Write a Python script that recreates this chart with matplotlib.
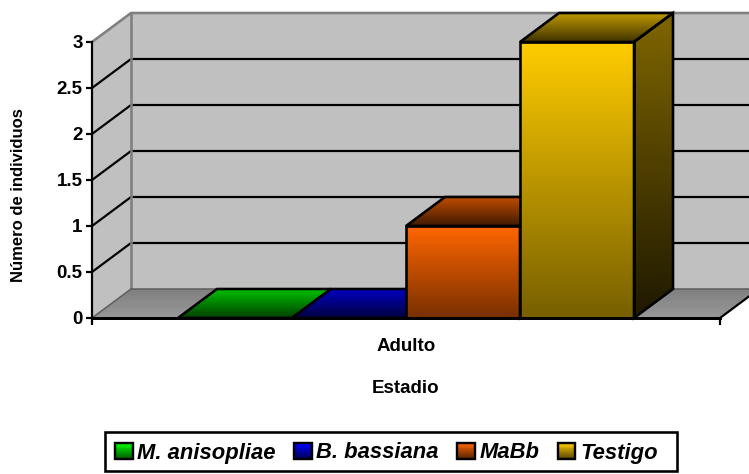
import numpy as np
import matplotlib
matplotlib.use("Agg")
import matplotlib.pyplot as plt
from matplotlib.patches import Polygon, Rectangle, Patch
from matplotlib.colors import to_rgb
from matplotlib.legend_handler import HandlerBase

categories = ["Adulto"]
series_names = ["M. anisopliae", "B. bassiana", "MaBb", "Testigo"]
series_values = [0, 0, 1, 3]
y_ticks = [0, 0.5, 1, 1.5, 2, 2.5, 3]
y_tick_labels = ["0", "0.5", "1", "1.5", "2", "2.5", "3"]
face_colors = ["#00ff00", "#0000ff", "#ff6600", "#ffcc00"]

W, H = 749, 474
AX_L, AX_R, AX_T, AX_B = 92, 720, 42, 318
plt.rcParams["font.family"] = ["Liberation Sans", "DejaVu Sans"]
px = 72 / 100

fig = plt.figure(figsize=(W / 100, H / 100), dpi=100)
ax = fig.add_axes([AX_L / W, (H - AX_B) / H, (AX_R - AX_L) / W, (AX_B - AX_T) / H])
ax.patch.set_alpha(0)

DX = 39 / (AX_R - AX_L)
DY = 29 / ((AX_B - AX_T) / 3)
BAR_W = 114 / (AX_R - AX_L)


def mix(c, f):
    return np.array(to_rgb(c)) * f


def grad(poly, top, bottom, z):
    """Fill a polygon with a vertical gradient, clipped to its outline."""
    poly = np.asarray(poly, float)
    g = np.linspace(0, 1, 64)[:, None, None]
    img = (1 - g) * np.asarray(top)[None, None, :] + g * np.asarray(bottom)[None, None, :]
    ext = [poly[:, 0].min(), poly[:, 0].max(), poly[:, 1].min(), poly[:, 1].max()]
    im = ax.imshow(img, extent=ext, aspect="auto", origin="upper", zorder=z,
                   interpolation="bilinear", clip_on=True)
    p = Polygon(poly, closed=True, transform=ax.transData, fc="none", ec="none", clip_on=False)
    ax.add_patch(p)
    im.set_clip_box(fig.bbox)
    im.set_clip_path(p)
    return im


def outline(poly, z, color="black", lw=2.6):
    ax.add_patch(Polygon(poly, closed=True, fc="none", ec=color, lw=lw * px, zorder=z,
                         clip_on=False, joinstyle="miter"))


x0, x1 = -0.5, 0.5
ymax = y_ticks[-1]
# walls and floor
ax.add_patch(Polygon([(x0 + DX, DY), (x1 + DX, DY), (x1 + DX, ymax + DY), (x0 + DX, ymax + DY)],
                     fc="#c0c0c0", ec="none", zorder=1, clip_on=False))
ax.add_patch(Polygon([(x0, 0), (x0 + DX, DY), (x0 + DX, ymax + DY), (x0, ymax)],
                     fc="#c0c0c0", ec="none", zorder=1, clip_on=False))
floor = [(x0, 0), (x0 + DX, DY), (x1 + DX, DY), (x1, 0)]
grad(floor, mix("#808080", 1), mix("#989898", 1), 1.5)
for t in y_ticks[1:-1]:
    ax.plot([x0, x0 + DX, x1 + DX], [t, t + DY, t + DY], color="black", lw=2.2 * px, zorder=2,
            clip_on=False, solid_joinstyle="miter")
ax.plot([x0, x0 + DX, x1 + DX], [ymax, ymax + DY, ymax + DY], color="#808080", lw=2.6 * px,
        zorder=2, clip_on=False)
ax.plot([x0 + DX, x0 + DX], [DY, ymax + DY], color="#808080", lw=2.6 * px, zorder=2, clip_on=False)
ax.plot([x0, x0 + DX, x1 + DX], [0, DY, DY], color="#606060", lw=1.6 * px, zorder=2, clip_on=False)
ax.plot([x1, x1 + DX], [0, DY], color="black", lw=2.2 * px, zorder=2, clip_on=False)

# bars
n = len(series_values)
for i, (v, c) in enumerate(zip(series_values, face_colors)):
    l = (i - n / 2) * BAR_W
    r = l + BAR_W
    z = 3 + i
    top = [(l, v), (r, v), (r + DX, v + DY), (l + DX, v + DY)]
    side = [(r, 0), (r + DX, DY), (r + DX, v + DY), (r, v)]
    front = [(l, 0), (r, 0), (r, v), (l, v)]
    if v > 0:
        grad(side, mix(c, 0.5), mix(c, 0.12), z)
        grad(front, mix(c, 1.0), mix(c, 0.47), z)
        outline(side, z + 0.1)
        outline(front, z + 0.1)
    grad(top, mix(c, 0.75), mix(c, 0.25), z)
    outline(top, z + 0.1)

# axes furniture
ax.set_xlim(-0.5, 0.5)
ax.set_ylim(0, 3)
for s in ("top", "right"):
    ax.spines[s].set_visible(False)
ax.spines["left"].set_linewidth(2.2 * px)
ax.spines["bottom"].set_linewidth(3 * px)
for s in ax.spines.values():
    s.set_zorder(20)
ax.set_yticks(y_ticks, y_tick_labels, fontsize=13.5, fontweight="bold")
ax.tick_params(axis="y", length=6 * px, width=2.2 * px, pad=2.5)
ax.set_xticks([-0.5, 0.5], ["", ""])
ax.tick_params(axis="x", which="major", length=7 * px, width=2.2 * px)
ax.set_xticks([0], categories, minor=True, fontsize=13.5, fontweight="bold")
ax.tick_params(axis="x", which="minor", length=0, pad=14.5)
ax.set_xlabel("Estadio", fontsize=13.5, fontweight="bold", labelpad=18)
ax.set_ylabel("Número de individuos", fontsize=12, fontweight="bold")
ax.yaxis.set_label_coords(-(92 - 26) / (AX_R - AX_L), (318 - 195) / (AX_B - AX_T))


class GradHandler(HandlerBase):
    def create_artists(self, legend, orig, xd, yd, w, h, fs, trans):
        c = orig.get_facecolor()[:3]
        arts = []
        k = 16
        for j in range(k):
            f = 1 - 0.6 * j / (k - 1)
            arts.append(Rectangle((-xd, -yd + h * (1 - (j + 1) / k)), w, h / k + 0.3,
                                  fc=np.array(c) * f, ec="none", transform=trans))
        arts.append(Rectangle((-xd, -yd), w, h, fc="none", ec="black", lw=2.4 * px, transform=trans))
        return arts


fig.add_artist(Rectangle((105 / W, (H - 471) / H), (677 - 105) / W, 39 / H, fc="white", ec="black",
                         lw=2.6 * px, transform=fig.transFigure))
handles = [Patch(facecolor=c, label=s) for c, s in zip(face_colors, series_names)]
leg = fig.legend(handles=handles, ncol=4, handler_map={Patch: GradHandler()},
                 prop={"size": 15.8, "weight": "bold", "style": "italic"},
                 loc="center left", bbox_to_anchor=(115 / W, (H - 453) / H),
                 frameon=False,
                 handlelength=0.8, handleheight=0.7, handletextpad=0.22, columnspacing=0.83,
                 borderaxespad=0, borderpad=0)

fig.savefig("out.png", dpi=100)
